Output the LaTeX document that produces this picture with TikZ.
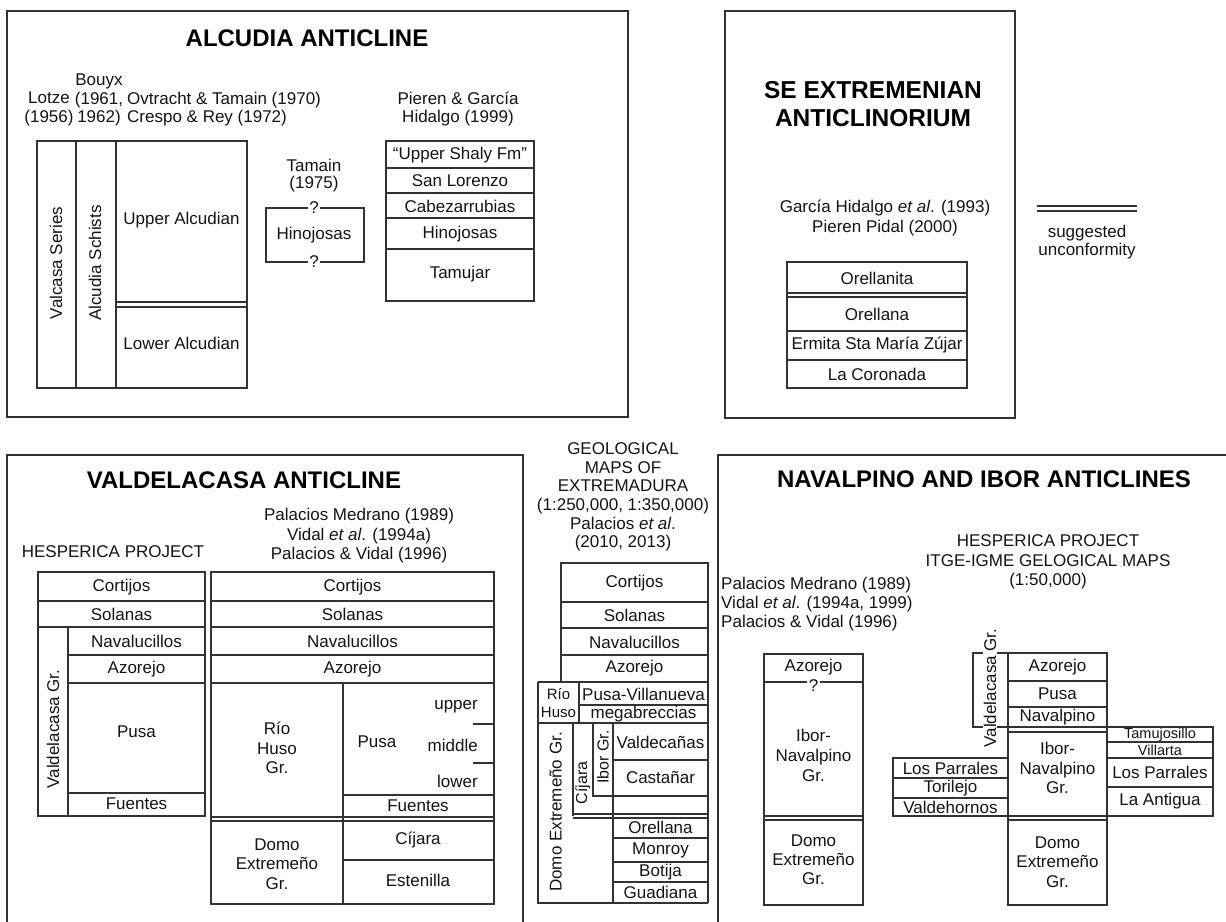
\documentclass[tikz,border=0pt]{standalone}
\usepackage{fontspec}
\setmainfont{Liberation Sans}
\definecolor{txt}{HTML}{141414}
\definecolor{lin}{HTML}{333333}
\begin{document}
\begin{tikzpicture}[x=1pt,y=-1pt,
  lbl/.style={font=\fontsize{17}{19.5}\selectfont, align=center, inner sep=0pt, text=txt},
  sml/.style={font=\fontsize{14.5}{17}\selectfont, align=center, inner sep=0pt, text=txt},
  ttl/.style={font=\bfseries\fontsize{24}{28}\selectfont, align=center, inner sep=0pt, text=black},
  ln/.style={draw=lin, line width=1.3pt},
  frm/.style={draw=lin, line width=1.5pt},
  qm/.style={lbl, fill=white, inner sep=1.5pt}]
\fill[white] (0,0) rectangle (1226,921);
\useasboundingbox (0,0) rectangle (1226,921);

% ================= ALCUDIA ANTICLINE =================
\draw[frm] (7,11) rectangle (628,417);
\node[ttl] (alcT) at (307,38) {ALCUDIA ANTICLINE};
\node[lbl, font=\fontsize{17}{18.5}\selectfont] (lotze) at (49,109) {Lotze\\(1956)};
\node[lbl, font=\fontsize{17}{18.5}\selectfont] (bouyx) at (99,100) {Bouyx\\(1961,\\1962)};
\node[lbl, anchor=west, align=left, font=\fontsize{17}{18.5}\selectfont] (ovt) at (127,109) {Ovtracht \& Tamain (1970)\\Crespo \& Rey (1972)};
\draw[ln] (37,141) rectangle (247,388);
\draw[ln] (76,141) -- (76,388);
\draw[ln] (116,141) -- (116,388);
\draw[ln] (116,302) -- (247,302);
\draw[ln] (116,307) -- (247,307);
\node[lbl, rotate=90] (valcasa) at (56,263) {Valcasa Series};
\node[lbl, rotate=90] (alcsch) at (95,263) {Alcudia Schists};
\node[lbl] (upalc) at (181.5,220) {Upper Alcudian};
\node[lbl] (lowalc) at (181.5,343) {Lower Alcudian};
\node[lbl, font=\fontsize{17}{17}\selectfont] (tamain) at (314,176) {Tamain\\(1975)};
\draw[ln] (266,208) rectangle (364,262);
\node[qm] (q1) at (314,208) {?};
\node[qm] (q2) at (314,262) {?};
\node[lbl] (hino1) at (314,235) {Hinojosas};
\node[lbl, font=\fontsize{17}{18.5}\selectfont] (pieren) at (458,109) {Pieren \& García\\Hidalgo (1999)};
\draw[ln] (386,141) rectangle (534,301);
\foreach \yy in {168,193,218,249} \draw[ln] (386,\yy) -- (534,\yy);
\node[lbl] (ushaly) at (460,155) {“Upper Shaly Fm”};
\node[lbl] (sanlor) at (460,181) {San Lorenzo};
\node[lbl] (cabez) at (460,206) {Cabezarrubias};
\node[lbl] (hino2) at (460,234) {Hinojosas};
\node[lbl] (tamujar) at (460,274) {Tamujar};

% ================= SE EXTREMENIAN =================
\draw[frm] (725,11) rectangle (1015,418);
\node[ttl, font=\bfseries\fontsize{24.5}{28}\selectfont] (seT) at (873,104) {SE EXTREMENIAN\\ANTICLINORIUM};
\node[lbl, font=\fontsize{17}{20}\selectfont] (garcia) at (885,218) {García Hidalgo \textit{et al}. (1993)\\Pieren Pidal (2000)};
\draw[ln] (787,262) rectangle (967,388);
\draw[ln] (787,293) -- (967,293);
\draw[ln] (787,297) -- (967,297);
\draw[ln] (787,331) -- (967,331);
\draw[ln] (787,360) -- (967,360);
\node[lbl] (orellanita) at (877,278) {Orellanita};
\node[lbl] (orellana1) at (877,314) {Orellana};
\node[lbl] (ermita) at (877,345) {Ermita Sta María Zújar};
\node[lbl] (coronada) at (877,374) {La Coronada};
% legend
\coordinate (lgA) at (1037,206);
\coordinate (lgB) at (1137,206);
\coordinate (lgC) at (1037,211);
\coordinate (lgD) at (1137,211);
\draw[ln] (lgA) -- (lgB);
\draw[ln] (lgC) -- (lgD);
\node[lbl, font=\fontsize{17}{18}\selectfont] (legend) at (1087,242) {suggested\\unconformity};

% ================= VALDELACASA ANTICLINE =================
\draw[frm] (7,925) -- (7,455) -- (523,455) -- (523,925);
\node[ttl] (valT) at (244,480) {VALDELACASA ANTICLINE};
\node[lbl] (hesp1) at (113,552) {HESPERICA PROJECT};
\node[lbl] (palac1) at (359,536) {Palacios Medrano (1989)\\Vidal \textit{et al}. (1994a)\\Palacios \& Vidal (1996)};
% left column
\draw[ln] (38,572) rectangle (205,816);
\draw[ln] (38,601) -- (205,601);
\draw[ln] (38,627) -- (205,627);
\draw[ln] (68,627) -- (68,816);
\draw[ln] (68,655) -- (205,655);
\draw[ln] (68,683) -- (205,683);
\draw[ln] (68,793) -- (205,793);
\node[lbl] (cort1) at (121.5,587) {Cortijos};
\node[lbl] (sol1) at (121.5,614) {Solanas};
\node[lbl] (nava1) at (136.5,641) {Navalucillos};
\node[lbl] (azo1) at (136.5,669) {Azorejo};
\node[lbl] (pusa1) at (136.5,732) {Pusa};
\node[lbl] (fuen1) at (136.5,804) {Fuentes};
\node[lbl, rotate=90] (valgr1) at (53,729) {Valdelacasa Gr.};
% middle column
\draw[ln] (211,572) rectangle (494,904);
\foreach \yy in {601,627,655,683} \draw[ln] (211,\yy) -- (494,\yy);
\draw[ln] (343,683) -- (343,904);
\draw[ln] (343,795) -- (494,795);
\draw[ln] (211,817) -- (494,817);
\draw[ln] (211,821) -- (494,821);
\draw[ln] (343,860) -- (494,860);
\draw[ln] (473,724) -- (494,724);
\draw[ln] (473,763) -- (494,763);
\node[lbl] (cort2) at (352.5,587) {Cortijos};
\node[lbl] (sol2) at (352.5,614) {Solanas};
\node[lbl] (nava2) at (352.5,641) {Navalucillos};
\node[lbl] (azo2) at (352.5,669) {Azorejo};
\node[lbl] (rio1) at (277,748) {Río\\Huso\\Gr.};
\node[lbl] (pusa2) at (377,742) {Pusa};
\node[lbl, anchor=east] (upper) at (478,707) {upper};
\node[lbl, anchor=east] (middle) at (478,745) {middle};
\node[lbl, anchor=east] (lower) at (478,781) {lower};
\node[lbl] (fuen2) at (418,806) {Fuentes};
\node[lbl] (domo1) at (277,864) {Domo\\Extremeño\\Gr.};
\node[lbl] (cij1) at (418,840) {Cíjara};
\node[lbl] (esten) at (418,880) {Estenilla};

% ================= GEOLOGICAL MAPS =================
\node[lbl, font=\fontsize{17}{18.6}\selectfont] (geoT) at (623,497) {GEOLOGICAL\\MAPS OF\\EXTREMADURA\\(1:250,000, 1:350,000)\\Palacios \textit{et al}.\\(2010, 2013)};
\draw[ln] (561,682) -- (561,563) -- (708,563) -- (708,903);
\foreach \yy in {602,628,655} \draw[ln] (561,\yy) -- (708,\yy);
\draw[ln] (538,682) -- (708,682);
\draw[ln] (538,682) -- (538,903) -- (708,903);
\draw[ln] (579,682) -- (579,723);
\draw[ln] (579,705) -- (708,705);
\draw[ln] (538,723) -- (708,723);
\draw[ln] (573,723) -- (573,816);
\draw[ln] (573,814) -- (708,814);
\draw[ln] (573,818) -- (708,818);
\draw[ln] (593,723) -- (593,796) -- (708,796);
\draw[ln] (613,723) -- (613,903);
\draw[ln] (613,760) -- (708,760);
\foreach \yy in {838,862,882} \draw[ln] (613,\yy) -- (708,\yy);
\node[lbl] (cort3) at (634.5,583) {Cortijos};
\node[lbl] (sol3) at (634.5,615) {Solanas};
\node[lbl] (nava3) at (634.5,642) {Navalucillos};
\node[lbl] (azo3) at (634.5,668) {Azorejo};
\node[sml, font=\fontsize{15}{18}\selectfont] (rio2) at (558.5,703) {Río\\Huso};
\node[lbl] (pusavil) at (643.5,694) {Pusa-Villanueva};
\node[lbl] (megab) at (643.5,714) {megabreccias};
\node[lbl, rotate=90] (domo2) at (555.5,812) {Domo Extremeño Gr.};
\node[lbl, font=\fontsize{16}{18}\selectfont, rotate=90] (cij2) at (583,783) {Cíjara};
\node[lbl, font=\fontsize{16}{18}\selectfont, rotate=90] (iborgr) at (603,757) {Ibor Gr.};
\node[lbl] (valdec) at (660.5,742) {Valdecañas};
\node[lbl] (castan) at (660.5,777) {Castañar};
\node[lbl] (orell2) at (660.5,827) {Orellana};
\node[lbl] (monroy) at (660.5,850) {Monroy};
\node[lbl] (botija) at (660.5,872) {Botija};
\node[lbl] (guad) at (660.5,892.5) {Guadiana};

% ================= NAVALPINO AND IBOR =================
\draw[frm] (718,925) -- (718,455) -- (1230,455);
\node[ttl] (navT) at (984,479) {NAVALPINO AND IBOR ANTICLINES};
\node[lbl] (hesp2) at (1048,562) {HESPERICA PROJECT\\ITGE-IGME GELOGICAL MAPS\\(1:50,000)};
\node[lbl, anchor=west, align=left, font=\fontsize{17}{19}\selectfont] (palac2) at (721,604) {Palacios Medrano (1989)\\Vidal \textit{et al}. (1994a, 1999)\\Palacios \& Vidal (1996)};
% left column
\draw[ln] (764,654) rectangle (863,905);
\draw[ln] (764,682) -- (863,682);
\node[qm] (q3) at (813.5,686) {?};
\draw[ln] (764,816) -- (863,816);
\draw[ln] (764,820) -- (863,820);
\node[lbl] (azo4) at (813.5,667) {Azorejo};
\node[lbl, font=\fontsize{17}{20}\selectfont] (ibor1) at (813.5,755) {Ibor-\\Navalpino\\Gr.};
\node[lbl, font=\fontsize{17}{19}\selectfont] (domo3) at (813.5,860) {Domo\\Extremeño\\Gr.};
% right composite
\draw[ln] (1008,653) rectangle (1107,905);
\draw[ln] (1008,681) -- (1107,681);
\draw[ln] (1008,707) -- (1107,707);
\draw[ln] (1008,732) -- (1107,732);
\draw[ln] (1008,820) -- (1107,820);
\draw[ln] (893,816) -- (1213,816);
\draw[ln] (893,758) rectangle (1008,816);
\draw[ln] (893,778) -- (1008,778);
\draw[ln] (893,798) -- (1008,798);
\draw[ln] (1107,727) rectangle (1213,816);
\draw[ln] (1107,742) -- (1213,742);
\draw[ln] (1107,758) -- (1213,758);
\draw[ln] (1107,787) -- (1213,787);
\draw[ln] (1008,653) -- (973,653) -- (973,727) -- (1107,727);
\node[lbl, rotate=90, fill=white, inner sep=1pt] (valgr2) at (990,688) {Valdelacasa Gr.};
\node[lbl] (azo5) at (1057.5,667) {Azorejo};
\node[lbl] (pusa3) at (1057.5,694) {Pusa};
\node[lbl] (navalp) at (1057.5,717) {Navalpino};
\node[lbl] (ibor2) at (1057.5,768) {Ibor-\\Navalpino\\Gr.};
\node[lbl] (domo4) at (1057.5,862) {Domo\\Extremeño\\Gr.};
\node[lbl] (lpar1) at (950.5,768) {Los Parrales};
\node[lbl] (toril) at (950.5,788) {Torilejo};
\node[lbl] (valdeh) at (950.5,807) {Valdehornos};
\node[sml] (tamuj) at (1160,734.5) {Tamujosillo};
\node[sml] (villarta) at (1160,750) {Villarta};
\node[lbl] (lpar2) at (1160,772.5) {Los Parrales};
\node[lbl] (antig) at (1160,801.5) {La Antigua};
\end{tikzpicture}
\end{document}
